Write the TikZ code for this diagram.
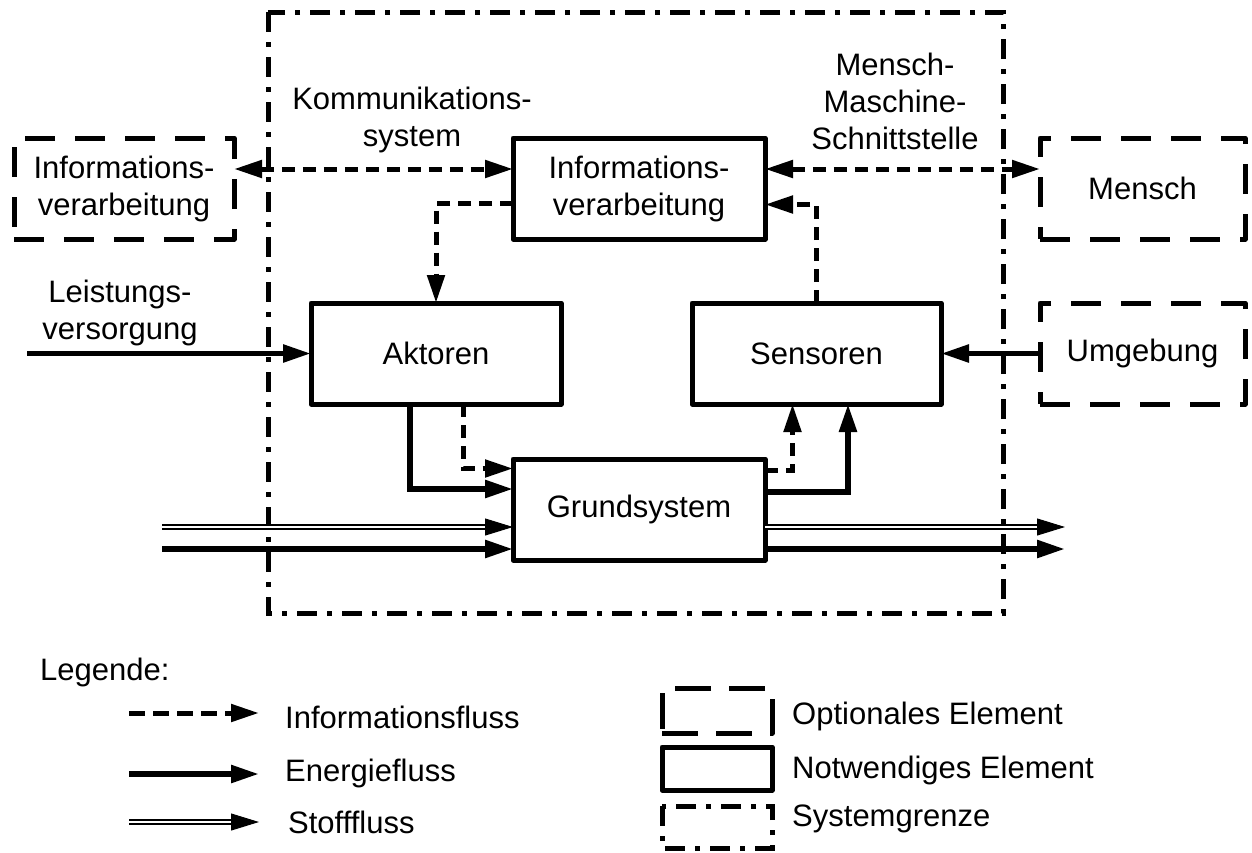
\documentclass[tikz,border=0pt]{standalone}
\usepackage{fontspec}
\setmainfont{Liberation Sans}
\usetikzlibrary{arrows.meta}

\tikzset{
  txt/.style={font=\fontsize{31}{37}\selectfont, inner sep=0pt, align=center},
  needed/.style={draw, line width=5pt, line join=round, inner sep=0pt, outer sep=0pt,
    font=\fontsize{31}{37}\selectfont, align=center},
  optional/.style={needed, dash pattern=on 30pt off 20pt},
  boundary/.style={line width=5pt, dash pattern=on 20pt off 10pt on 5pt off 10pt},
  tip/.style={-{Triangle[length=28pt,width=17pt]}},
  bitip/.style={{Triangle[length=28pt,width=17pt]}-{Triangle[length=28pt,width=17pt]}},
  infoflow/.style={line width=5pt, dash pattern=on 13pt off 8pt, tip},
  energyflow/.style={line width=5.5pt, tip},
  matterflow/.style={double, line width=1.9pt, double distance=2.6pt, shorten >=26pt},
  mattertip/.style={line width=1pt, tip},
}

\begin{document}
\begin{tikzpicture}[x=1pt, y=-1pt]
\useasboundingbox (0,0) rectangle (1252,852);

% system boundary
\draw[boundary] (268,12) rectangle (1003,613);

% elements
\node[optional, minimum width=220pt, minimum height=101pt] (infoL) at (124,188.5) {Informations-\\verarbeitung};
\node[needed, minimum width=252pt, minimum height=101pt] (info) at (639,188.5) {Informations-\\verarbeitung};
\node[optional, minimum width=205pt, minimum height=101pt] (mensch) at (1142.5,188.5) {Mensch};
\node[needed, minimum width=250pt, minimum height=101pt] (akt) at (436,353.5) {Aktoren};
\node[needed, minimum width=249pt, minimum height=101pt] (sens) at (816.5,353.5) {Sensoren};
\node[optional, minimum width=205pt, minimum height=101pt] (umg) at (1142.5,353.5) {Umgebung};
\node[needed, minimum width=252pt, minimum height=101pt] (grund) at (639,509.5) {Grundsystem};

% labels
\node[txt] (komm) at (412,120) {Kommunikations-\\system};
\node[txt] (mms) at (895,101) {Mensch-\\Maschine-\\Schnittstelle};
\node[txt] (leist) at (120,313) {Leistungs-\\versorgung};

% free ends
\coordinate (pin) at (27,353.5);
\coordinate (min) at (162,527);
\coordinate (ein) at (162,549);
\coordinate (mout) at (1065,527);
\coordinate (eout) at (1065,549);

% information flows
\draw[infoflow, bitip] ([yshift=19.5pt]infoL.east) -- ([yshift=19.5pt]info.west);
\draw[infoflow, bitip] ([yshift=19.5pt]info.east) -- ([yshift=19.5pt]mensch.west);
\draw[infoflow] ([yshift=-15pt]info.west) -| (akt.north);
\draw[infoflow] (sens.north) |- ([yshift=-16pt]info.east);
\draw[infoflow] ([xshift=27pt]akt.south) |- ([yshift=41pt]grund.west);
\draw[infoflow] ([yshift=39.5pt]grund.east) -| ([xshift=-24pt]sens.south);

% energy flows
\draw[energyflow] (pin) -- (akt.west);
\draw[energyflow] (umg.west) -- (sens.east);
\draw[energyflow] ([xshift=-26pt]akt.south) |- ([yshift=20.5pt]grund.west);
\draw[energyflow] ([yshift=17.5pt]grund.east) -| ([xshift=31.5pt]sens.south);
\draw[energyflow] (ein) -- ([yshift=-39.5pt]grund.west);
\draw[energyflow] ([yshift=-39.5pt]grund.east) -- (eout);

% matter flows
\draw[matterflow] (min) -- ([yshift=-17.5pt]grund.west);
\draw[mattertip] ([xshift=-28pt,yshift=-17.5pt]grund.west) -- ([yshift=-17.5pt]grund.west);
\draw[matterflow] ([yshift=-17.5pt]grund.east) -- (mout);
\draw[mattertip] ([xshift=-28pt]mout) -- (mout);

% legend
\node[txt, anchor=west] (leg) at (40,672) {Legende:};

\coordinate (l1a) at (129,713);
\coordinate (l1b) at (259,713);
\coordinate (l2a) at (129,774);
\coordinate (l2b) at (259,774);
\coordinate (l3a) at (129,822);
\coordinate (l3b) at (259,822);
\draw[infoflow, dash pattern=on 16pt off 8pt] (l1a) -- (l1b);
\draw[energyflow] (l2a) -- (l2b);
\draw[matterflow] (l3a) -- (l3b);
\draw[mattertip] ([xshift=-28pt]l3b) -- (l3b);
\node[txt, anchor=west] (t1) at (285,717) {Informationsfluss};
\node[txt, anchor=west] (t2) at (285,773) {Energiefluss};
\node[txt, anchor=west] (t3) at (288,822) {Stofffluss};

\node[optional, dash pattern=on 36pt off 18pt, minimum width=110pt, minimum height=45pt] (lo) at (717,710.5) {};
\node[needed, minimum width=110pt, minimum height=43pt] (ln) at (717,768.5) {};
\draw[boundary] (662,806) rectangle (772,848);
\node[txt, anchor=west] (t4) at (792,716) {Optionales Element};
\node[txt, anchor=west] (t5) at (792,770) {Notwendiges Element};
\node[txt, anchor=west] (t6) at (792,819) {Systemgrenze};
\end{tikzpicture}
\end{document}
